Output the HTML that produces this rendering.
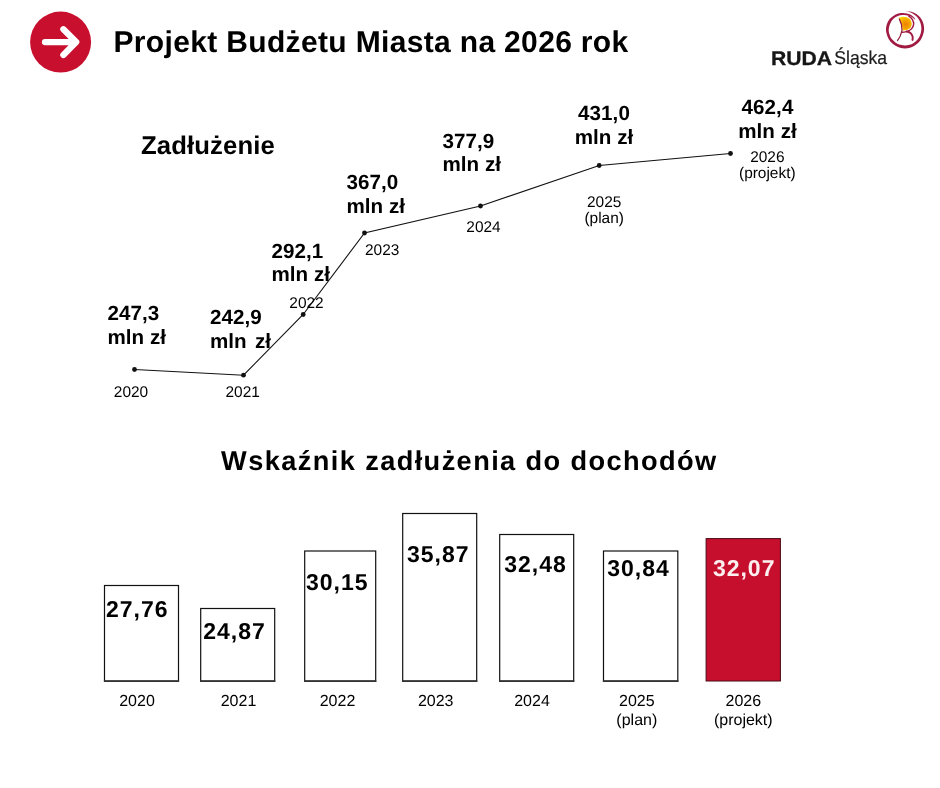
<!DOCTYPE html>
<html lang="pl">
<head>
<meta charset="utf-8">
<title>Projekt Budżetu Miasta na 2026 rok</title>
<style>
html,body{margin:0;padding:0;background:#fff;}
body{width:940px;height:788px;overflow:hidden;font-family:"Liberation Sans",sans-serif;}
svg{display:block;}
text{font-family:"Liberation Sans",sans-serif;fill:#000;text-rendering:geometricPrecision;}
.b{font-weight:bold;}
.title{font-size:30px;font-weight:bold;letter-spacing:0.34px;}
.h2{font-size:25.7px;font-weight:bold;letter-spacing:0.12px;}
.h3{font-size:27.2px;font-weight:bold;letter-spacing:1.4px;}
.val{font-size:20.6px;font-weight:bold;letter-spacing:0.05px;}
.yr{font-size:15.45px;fill:#111;}
.bv{font-size:23px;font-weight:bold;letter-spacing:1px;}
.by{font-size:16px;fill:#111;}
.bar{fill:#fff;stroke:#111;stroke-width:1.2;}
</style>
</head>
<body>
<svg width="940" height="788" viewBox="0 0 940 788">
<!-- header icon -->
<circle cx="60.6" cy="42.1" r="30.5" fill="#c8102e"/>
<path d="M45 42.1 H75.5 M63.4 29.3 L76.2 42.1 L63.4 54.9" fill="none" stroke="#fff" stroke-width="6.3" stroke-linecap="round" stroke-linejoin="round"/>
<text class="title" x="113.5" y="51.9">Projekt Budżetu Miasta na 2026 rok</text>

<!-- logo -->
<g id="logo">
<text x="771" y="64.6" font-size="19.6" class="b" style="fill:#161616;stroke:#161616;stroke-width:0.3px" textLength="61.1" lengthAdjust="spacingAndGlyphs">RUDA</text>
<text x="834.3" y="64.3" font-size="18.6" style="fill:#1c1c1c;stroke:#1c1c1c;stroke-width:0.2px" textLength="52.8" lengthAdjust="spacingAndGlyphs">Śląska</text>
<defs>
<radialGradient id="og" cx="0.55" cy="0.55" r="0.6">
<stop offset="0" stop-color="#ee7f00"/><stop offset="0.55" stop-color="#f7a600"/><stop offset="1" stop-color="#ffd800"/>
</radialGradient>
</defs>
<g transform="translate(882,6) scale(0.06093)">
<path fill="#a01a42" d="M390,85 C405,87 450,87 480,95 C510,103 543,117 570,135 C597,153 622,179 640,205 C658,231 672,259 680,290 C688,321 693,358 691,390 C689,422 681,450 670,480 C659,510 646,542 625,570 C604,598 572,626 545,645 C518,664 488,676 460,685 C432,694 406,696 378,696 C350,696 322,693 295,685 C268,677 241,665 215,648 C189,631 161,610 140,585 C119,560 102,532 90,500 C78,468 67,428 65,395 C63,362 70,330 80,300 C90,270 104,240 125,215 C146,190 181,166 205,150 C229,134 248,128 270,122 C292,116 317,114 340,114 C363,114 388,117 410,122 C432,127 452,135 470,145 C488,155 505,168 518,180 C531,192 543,210 546,216 C549,222 544,221 536,216 C528,211 516,197 500,188 C484,179 467,167 440,160 C413,153 372,147 340,148 C308,149 277,156 250,168 C223,180 200,196 180,218 C160,240 142,270 130,300 C118,330 111,367 110,395 C109,423 117,446 125,470 C133,494 141,517 160,540 C179,563 215,594 240,610 C265,626 287,632 310,638 C333,644 355,648 378,648 C401,648 426,645 450,638 C474,631 498,620 520,606 C542,592 562,576 580,555 C598,534 614,508 625,480 C636,452 644,418 646,390 C648,362 646,336 640,310 C634,284 625,259 612,235 C599,211 582,186 560,165 C538,144 508,123 480,110 C452,97 405,89 390,85 Z"/>
<path fill="url(#og)" d="M272,192 Q380,150 460,215 Q515,290 462,365 Q410,405 338,402 Q335,300 272,192 Z"/>
<path fill="none" stroke="#a01a42" stroke-width="24" stroke-linecap="round" d="M440,165 Q520,215 520,295 Q510,390 400,420 Q360,430 332,432"/>
<path fill="none" stroke="#8e1a3e" stroke-width="20" stroke-linecap="round" d="M256,566 Q310,500 328,400 Q332,300 285,215"/>
<path fill="none" stroke="#a01a42" stroke-width="32" stroke-linecap="round" d="M405,420 Q480,430 502,500 Q508,530 500,556"/>
</g>
</g>

<text class="h2" x="141" y="153.7">Zadłużenie</text>

<!-- line chart -->
<polyline points="134.5,369.5 243.5,375.2 303.2,314.5 364.5,233 480.5,206 599.2,165.5 730.5,153.5" fill="none" stroke="#111" stroke-width="1.1"/>
<g fill="#111">
<circle cx="134.5" cy="369.5" r="2.4"/>
<circle cx="243.5" cy="375.2" r="2.4"/>
<circle cx="303.2" cy="314.5" r="2.4"/>
<circle cx="364.5" cy="233" r="2.4"/>
<circle cx="480.5" cy="206" r="2.4"/>
<circle cx="599.2" cy="165.5" r="2.4"/>
<circle cx="730.5" cy="153.5" r="2.4"/>
</g>

<g class="val">
<text x="107.4" y="320">247,3</text><text x="107.4" y="343.7">mln zł</text>
<text x="209.9" y="323.7">242,9</text><text x="209.9" y="347.5" word-spacing="2.5">mln zł</text>
<text x="271.4" y="257.5">292,1</text><text x="271.4" y="281.2">mln zł</text>
<text x="346.4" y="188.7">367,0</text><text x="346.4" y="212.5">mln zł</text>
<text x="442.4" y="147.5">377,9</text><text x="442.4" y="171.2">mln zł</text>
<text x="604" y="120" text-anchor="middle">431,0</text><text x="604" y="144.2" text-anchor="middle">mln zł</text>
<text x="767.5" y="113.7" text-anchor="middle">462,4</text><text x="767.5" y="138" text-anchor="middle">mln zł</text>
</g>
<g class="yr" text-anchor="middle">
<text x="131" y="397">2020</text>
<text x="242.7" y="397">2021</text>
<text x="306.5" y="308">2022</text>
<text x="382.2" y="254.5">2023</text>
<text x="483.5" y="231.7">2024</text>
<text x="604.2" y="206.7">2025</text><text x="604.2" y="223.3">(plan)</text>
<text x="767.3" y="161.7">2026</text><text x="767.3" y="178.3">(projekt)</text>
</g>

<text class="h3" x="221.1" y="469.9">Wskaźnik zadłużenia do dochodów</text>

<!-- bars -->
<g class="bar">
<rect x="104.5" y="585.5" width="74" height="95.7"/>
<rect x="200.7" y="608.5" width="74" height="72.7"/>
<rect x="304.7" y="551" width="71" height="130.2"/>
<rect x="402.7" y="513.5" width="74" height="167.7"/>
<rect x="499.7" y="534.5" width="74" height="146.7"/>
<rect x="603.5" y="551" width="74.3" height="130.2"/>
</g>
<path d="M103.9 681.1 H179.1 M200.1 681.1 H275.3 M304.1 681.1 H376.3 M402.1 681.1 H477.3 M499.1 681.1 H574.3 M602.9 681.1 H678.4" fill="none" stroke="#333" stroke-width="1.9"/>
<rect x="706.1" y="538.6" width="74.3" height="142.4" fill="#c60f2d" stroke="#4a0813" stroke-width="1"/>

<g class="bv">
<text x="106.0" y="616.8">27,76</text>
<text x="203.2" y="638.8">24,87</text>
<text x="306.0" y="589.5">30,15</text>
<text x="407.0" y="561.8">35,87</text>
<text x="504.2" y="571.8">32,48</text>
<text x="607.2" y="575.5">30,84</text>
<text x="712.9" y="575.8" style="fill:#fdeef0">32,07</text>
</g>
<g class="by" text-anchor="middle">
<text x="137" y="706">2020</text>
<text x="238.5" y="706">2021</text>
<text x="337.5" y="706">2022</text>
<text x="435.7" y="706">2023</text>
<text x="532" y="706">2024</text>
<text x="636.8" y="706">2025</text><text x="636.8" y="725">(plan)</text>
<text x="743.3" y="706">2026</text><text x="743.3" y="725">(projekt)</text>
</g>
</svg>
</body>
</html>
